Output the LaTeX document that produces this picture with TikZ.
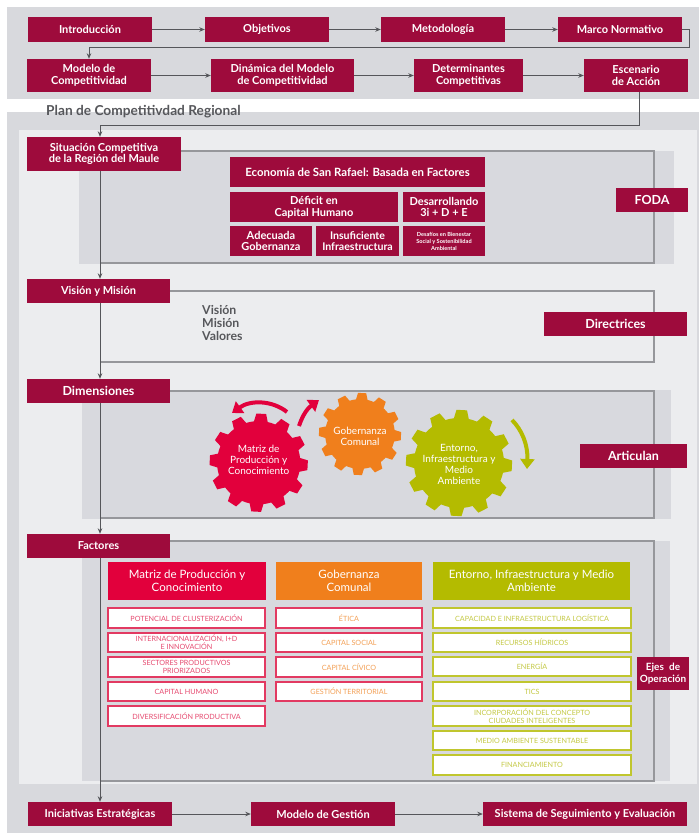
\documentclass[tikz,border=0pt]{standalone}
\usepackage{fontspec}
\setmainfont{Lato}
\usetikzlibrary{arrows.meta}
\definecolor{maroon}{HTML}{9E0B3C}
\definecolor{bandgray}{HTML}{D8D9DD}
\definecolor{innerlight}{HTML}{ECEDEF}
\definecolor{panelgray}{HTML}{D8D9DE}
\definecolor{framegray}{HTML}{96979B}
\definecolor{linkgray}{HTML}{55565A}
\definecolor{redc}{HTML}{E2003C}
\definecolor{orangec}{HTML}{F07F1C}
\definecolor{greenc}{HTML}{B4BB00}
\definecolor{txtgray}{HTML}{56575B}
\definecolor{redline}{HTML}{E23A62}
\definecolor{greenline}{HTML}{C0C62E}
\definecolor{redtext}{HTML}{E64A70}
\definecolor{orangetext}{HTML}{F3A056}
\definecolor{greentext}{HTML}{C4C944}
\tikzset{
  mbox/.style={fill=maroon,text=white,font=\bfseries\fontsize{11}{11.7}\selectfont,inner sep=0pt,align=center},
  mboxl/.style={mbox,font=\bfseries\fontsize{12.5}{13}\selectfont},
  head/.style={fill=#1,text=white,font=\fontsize{11.5}{12.5}\selectfont,inner sep=0pt,align=center},
  itembase/.style={line width=1.3pt,fill=white,font=\fontsize{7.2}{8.2}\selectfont,inner sep=0pt,align=center},
  itemred/.style={itembase,draw=redline,text=redtext},
  itemorange/.style={itembase,draw=redline,text=orangetext},
  itemgreen/.style={itembase,draw=greenline,text=greentext},
  frameline/.style={draw=framegray,line width=1.1pt},
  link/.style={draw=linkgray,line width=0.9pt,-{Stealth[length=5.5pt,width=4.5pt]}},
  geartext/.style={text=white,font=\fontsize{10}{11}\selectfont,align=center,inner sep=0pt},
  bentred/.style={line width=4pt,draw=redc,-{Triangle[length=10pt,width=14pt]}},
  bentgreen/.style={line width=4pt,draw=greenc,-{Triangle[length=10pt,width=14pt]}}
}
\newcommand{\bx}[7]{\node[#6,minimum width={(#4-#2)*1pt},minimum height={(#5-#3)*1pt}] (#1) at ({(#2+#4)/2},{(#3+#5)/2}) {#7};}
\newcommand{\gearshape}[5]{%
  \fill[#5] (#2,#3) circle ({0.85*#4});
  \foreach \a in {0,30,...,330}{
    \fill[#5,shift={(#2,#3)},rotate=\a-93]
      ({0.80*#4},{-0.15*#4}) -- ({#4},{-0.10*#4}) -- ({#4},{0.10*#4}) -- ({0.80*#4},{0.15*#4}) -- cycle;
  }
  \coordinate (#1) at (#2,#3);
}
\begin{document}
\begin{tikzpicture}[x=1pt,y=-1pt]
\useasboundingbox (0,0) rectangle (699,833);
\fill[white] (0,0) rectangle (699,833);
% bands
\fill[bandgray] (7,7) rectangle (699,99);
\fill[bandgray] (7,112) rectangle (699,833);
\fill[innerlight] (19,130) rectangle (697,784);
% panels
\fill[panelgray] (79,151) rectangle (674,264);
\fill[panelgray] (82,390) rectangle (671,519);
\fill[panelgray] (82,541) rectangle (670,781);
% top rows
\bx{intro}{28}{17}{152}{42}{mbox}{Introducción}
\bx{obj}{205}{17}{329}{42}{mbox}{Objetivos}
\bx{met}{381}{17}{505}{42}{mbox}{Metodología}
\bx{marco}{558}{17}{682}{42}{mbox}{Marco Normativo}
\bx{modelo}{27}{59}{151}{92}{mbox}{Modelo de\\Competitividad}
\bx{dinamica}{211}{59}{354}{92}{mbox}{Dinámica del Modelo\\de Competitividad}
\bx{determ}{414}{59}{523}{92}{mbox}{Determinantes\\Competitivas}
\bx{escenario}{584}{59}{688}{92}{mbox}{Escenario\\de Acción}
\node[anchor=west,inner sep=0pt,text=txtgray,font=\bfseries\fontsize{13.7}{14}\selectfont] (plan) at (46,112) {Plan de Competitivdad Regional};
% section boxes
\bx{situ}{27}{137}{181}{171}{mbox}{Situación Competitiva\\de la Región del Maule}
\bx{vision}{27}{279}{170}{303}{mbox}{Visión y Misión}
\bx{dimen}{27}{379}{170}{403}{mboxl}{Dimensiones}
\bx{factores}{27}{534}{170}{558}{mbox}{Factores}
\bx{inic}{28}{802}{172}{826}{mbox}{Iniciativas Estratégicas}
\bx{gestion}{251}{802}{395}{826}{mbox}{Modelo de Gestión}
\bx{sistema}{483}{802}{687}{826}{mbox}{Sistema de Seguimiento y Evaluación}
% frames
\coordinate (f0) at (181,151); \coordinate (f1a) at (654,151); \coordinate (f1b) at (654,263); \coordinate (f1c) at (100,263);
\coordinate (f2a) at (654,291); \coordinate (f2b) at (654,362); \coordinate (f2c) at (100,362);
\coordinate (f3a) at (654,391); \coordinate (f3b) at (654,518); \coordinate (f3c) at (100,518);
\coordinate (f3) at (170,541); \coordinate (f4a) at (654,541); \coordinate (f4b) at (654,781); \coordinate (f4c) at (100,781);
\draw[frameline] (f0) -- (f1a) -- (f1b) -- (f1c);
\draw[frameline] (vision.east) -- (f2a) -- (f2b) -- (f2c);
\draw[frameline] (dimen.east) -- (f3a) -- (f3b) -- (f3c);
\draw[frameline] (f3) -- (f4a) -- (f4b) -- (f4c);
% connectors
\draw[link] (intro) -- (obj);
\draw[link] (obj) -- (met);
\draw[link] (met) -- (marco);
\coordinate (m1) at (689,29.5); \coordinate (m2) at (689,47); \coordinate (m3) at (89,47);
\draw[link] (marco.east) -- (m1) -- (m2) -- (m3) -- (modelo.north);
\draw[link] (modelo) -- (dinamica);
\draw[link] (dinamica) -- (determ);
\draw[link] (determ) -- (escenario);
\coordinate (e0) at (639,92); \coordinate (e1) at (639,125.5); \coordinate (e2) at (100,125.5);
\draw[link] (e0) -- (e1) -- (e2) -- (e2 |- situ.north);
\draw[link] (situ.south -| e2) -- (e2 |- vision.north);
\draw[link] (vision.south -| e2) -- (e2 |- dimen.north);
\draw[link] (dimen.south -| e2) -- (e2 |- factores.north);
\draw[link] (factores.south -| e2) -- (e2 |- inic.north);
\draw[link] (inic) -- (gestion);
\draw[link] (gestion) -- (sistema);
% boxes on frames
\bx{economia}{230}{157}{485}{187}{mbox,font=\bfseries\fontsize{11.4}{12}\selectfont}{Economía de San Rafael: Basada en Factores}
\bx{deficit}{230}{192}{398}{222}{mbox}{Déficit en\\Capital Humano}
\bx{desarr}{403}{192}{485}{222}{mbox}{Desarrollando\\3i + D + E}
\bx{adecuada}{230}{226}{312}{256}{mbox}{Adecuada\\Gobernanza}
\bx{insuf}{316}{226}{399}{256}{mbox,font=\bfseries\fontsize{10.6}{11.7}\selectfont}{Insuficiente\\Infraestructura}
\bx{desafios}{403}{226}{485}{256}{mbox,font=\bfseries\fontsize{5.6}{7}\selectfont}{Desafíos en Bienestar\\Social y Sostenibilidad\\Ambiental}
\bx{foda}{616}{188}{688}{212}{mboxl}{FODA}
\node[anchor=north west,inner sep=0pt,align=left,text=txtgray,font=\bfseries\fontsize{12.3}{13}\selectfont] (vmv) at (202,305) {Visión\\Misión\\Valores};
\bx{directrices}{544}{312}{687}{336}{mboxl}{Directrices}
\bx{articulan}{580}{444}{687}{468}{mboxl}{Articulan}
% gears
\gearshape{gr}{258.7}{462.7}{49}{redc}
\gearshape{go}{360}{434}{41}{orangec}
\gearshape{gg}{459}{463}{53}{greenc}
\node[geartext] (grt) at (258.7,460) {Matriz de\\Producción y\\Conocimiento};
\node[geartext] (got) at (360,436.5) {Gobernanza\\Comunal};
\node[geartext] (ggt) at (459,464.5) {Entorno,\\Infraestructura y\\Medio\\Ambiente};
\coordinate (a1s) at (287,412); \coordinate (a1e) at (232,413);
\coordinate (a2s) at (299,426); \coordinate (a2e) at (319,400);
\coordinate (a3s) at (512,420); \coordinate (a3e) at (527,469);
\draw[bentred] (a1s) .. controls (272,400) and (250,400) .. (a1e);
\draw[bentred] (a2s) .. controls (303,414) and (308,408) .. (a2e);
\draw[bentgreen] (a3s) .. controls (522,430) and (528,445) .. (a3e);
% factor columns
\bx{hm}{108}{562}{266}{600}{head=redc}{Matriz de Producción y\\Conocimiento}
\bx{hg}{276}{562}{422}{600}{head=orangec}{Gobernanza\\Comunal}
\bx{he}{433}{562}{630}{600}{head=greenc}{Entorno, Infraestructura y Medio\\Ambiente}
\bx{m1}{108}{608}{265}{628}{itemred}{POTENCIAL DE CLUSTERIZACIÓN}
\bx{m2x}{108}{633}{265}{652}{itemred}{INTERNACIONALIZACIÓN, I+D\\E INNOVACIÓN}
\bx{m3x}{108}{657}{265}{677}{itemred}{SECTORES PRODUCTIVOS\\PRIORIZADOS}
\bx{m4}{108}{682}{265}{701}{itemred}{CAPITAL HUMANO}
\bx{m5}{108}{706}{265}{726}{itemred}{DIVERSIFICACIÓN PRODUCTIVA}
\bx{g1}{276}{608}{422}{628}{itemorange}{ÉTICA}
\bx{g2}{276}{633}{422}{652}{itemorange}{CAPITAL SOCIAL}
\bx{g3}{276}{657}{422}{677}{itemorange}{CAPITAL CÍVICO}
\bx{g4}{276}{682}{422}{701}{itemorange}{GESTIÓN TERRITORIAL}
\bx{e1x}{433}{608}{631}{628}{itemgreen}{CAPACIDAD E INFRAESTRUCTURA LOGÍSTICA}
\bx{e2x}{433}{633}{631}{652}{itemgreen}{RECURSOS HÍDRICOS}
\bx{e3x}{433}{657}{631}{676}{itemgreen}{ENERGÍA}
\bx{e4x}{433}{682}{631}{701}{itemgreen}{TICS}
\bx{e5x}{433}{706}{631}{726}{itemgreen}{INCORPORACIÓN DEL CONCEPTO\\CIUDADES INTELIGENTES}
\bx{e6x}{433}{731}{631}{750}{itemgreen}{MEDIO AMBIENTE SUSTENTABLE}
\bx{e7x}{433}{755}{631}{775}{itemgreen}{FINANCIAMIENTO}
\bx{ejes}{637}{657}{689}{690}{mbox,font=\bfseries\fontsize{10}{11.5}\selectfont}{Ejes\; de\\Operación}
\end{tikzpicture}
\end{document}
